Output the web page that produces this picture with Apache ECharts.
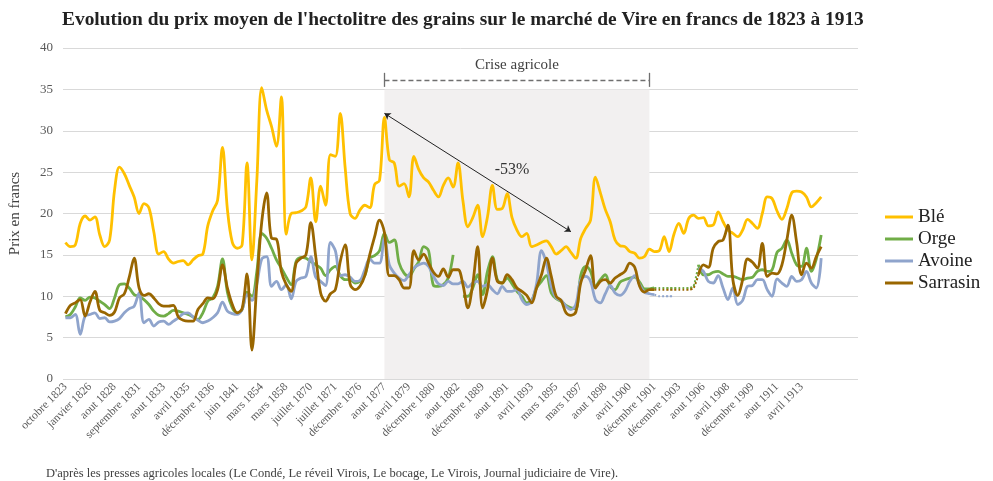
<!DOCTYPE html>
<html>
<head>
<meta charset="utf-8">
<script src="https://cdn.jsdelivr.net/npm/echarts@6/dist/echarts.min.js"></script>
<style>
  html, body { margin: 0; padding: 0; background: #fff; }
  #chart { width: 993px; height: 481px; }
</style>
</head>
<body>
<div id="chart"></div>
<script>
// libellés de l'axe (un tous les 5 relevés)
const tickLabels = ['octobre 1823', 'janvier 1826', 'aout 1828', 'septembre 1831', 'aout 1833', 'avril 1835',
  'décembre 1836', 'juin 1841', 'mars 1854', 'mars 1858', 'juillet 1870', 'juillet 1871', 'décembre 1876',
  'aout 1877', 'avril 1879', 'décembre 1880', 'aout 1882', 'décembre 1889', 'aout 1891', 'avril 1893',
  'mars 1895', 'mars 1897', 'aout 1898', 'avril 1900', 'décembre 1901', 'décembre 1903', 'aout 1906',
  'avril 1908', 'décembre 1909', 'aout 1911', 'avril 1913'];
const labelStep = 5;
const categoryCount = 162;

const ble = [
  16.5, 16.0, 16.2, 18.8, 19.7, 19.2, 19.6, 17.4, 16.0, 16.8,
  22.8, 25.6, 24.8, 23.4, 22.0, 20.0, 21.2, 20.7, 17.8, 15.1,
  15.4, 14.5, 14.0, 14.2, 14.3, 13.8, 14.4, 14.9, 15.1, 18.5,
  20.3, 21.6, 28.0, 20.5, 16.5, 15.8, 16.2, 26.1, 14.4, 24.0,
  35.2, 32.5, 30.5, 28.1, 34.1, 17.5, 20.0, 20.1, 20.3, 20.8,
  24.3, 19.0, 23.3, 21.0, 27.1, 26.9, 32.1, 25.5, 20.0, 19.4,
  20.4, 21.0, 20.7, 23.5, 24.0, 31.6, 26.5, 26.1, 23.3, 23.6,
  22.0, 26.9, 25.3, 24.3, 23.8, 22.8, 22.0, 23.4, 24.3, 23.2,
  26.1, 21.5, 18.4, 19.5, 21.0, 17.2, 19.6, 23.4, 20.5, 20.6,
  22.4, 19.5, 18.0, 17.2, 17.6, 16.0, 16.2, 16.5, 16.7, 16.0,
  15.1, 15.5, 16.0, 15.3, 14.6, 17.0, 18.2, 19.2, 24.4, 22.5,
  20.5, 19.0, 16.8, 16.1, 16.0, 15.4, 15.2, 14.6, 14.8, 15.7,
  15.4, 15.5, 17.2, 15.4, 17.5, 18.8, 17.6, 19.4, 19.8, 19.4,
  19.5, 18.5, 18.6, 20.2, 19.0, 18.0, 17.6, 17.2, 18.0, 19.3,
  18.8, 18.2, 20.0, 22.0, 21.8, 20.3, 19.3, 20.6, 22.5, 22.7,
  22.6, 22.0, 20.8, 21.3, 22.0
];
const orge = [
  7.5, 7.8, 8.7, 9.8, 9.5, 9.9, 9.8, 9.4, 9.0, 8.5,
  9.8, 11.4, 11.5, 11.0, 10.2, 10.0, 9.6, 9.0, 8.2, 7.7,
  7.6, 7.9, 8.3, 8.2, 8.0, 7.8, 7.5, 7.2, 8.0, 9.4,
  9.8, 11.2, 14.5, 10.5, 8.6, 8.0, 8.4, 10.5, 10.0, 13.0,
  17.6, 17.0, 15.8, 14.4, 13.4, 12.3, 11.4, 14.2, 14.7, 14.6,
  14.2, 13.8, 13.4, 12.5, 13.2, 13.6, 12.5, 12.0, 12.0, 11.6,
  11.8, 12.5, 14.6, 14.9, 15.5, 17.6, 16.5, 16.8, 14.0, 12.8,
  12.4, 13.3, 14.2, 16.0, 15.5, 11.3, 11.2, 11.4, 12.2, 15.0,
  null, 10.0, 10.0, 11.0, 12.6, 10.2, 13.0, 14.8, 12.0, 11.6,
  12.2, 11.5, 10.6, 10.0, 9.2, 9.5, 11.0, 11.8, 12.5, 10.4,
  9.7, 9.4, 8.9, 8.6, 8.5, 12.5, 13.6, 13.0, 11.2, 12.0,
  12.6, 11.2, 10.8, 11.7, 12.0, 12.2, 12.3, 11.7, 10.9, 10.9,
  11.0, null, null, null, null, null, null, null, null, 13.8,
  12.6, 12.6, 12.9, 13.0, 12.7, 12.4, 12.4, 12.2, 12.0, 12.2,
  12.3, 13.0, 13.2, 13.0, 13.2, 15.3, 15.8, 16.8, 15.2, 13.8,
  13.6, 15.8, 13.0, 14.5, 17.4
];
const avoine = [
  7.4, 7.4, 7.8, 5.4, 7.6, 7.8, 8.0, 7.3, 7.4, 6.9,
  7.0, 7.3, 8.0, 8.5, 8.8, 10.4, 6.8, 7.2, 6.4, 6.9,
  7.0, 6.6, 7.0, 7.4, 7.9, 8.0, 7.5, 7.1, 6.8, 7.0,
  7.4, 8.0, 9.3, 8.2, 7.9, 7.8, 8.4, 10.2, 9.5, 11.5,
  14.5, 14.8, 11.2, 11.8, 10.8, 11.4, 9.7, 11.8, 12.2, 12.4,
  14.8, 12.3, 11.8, 11.3, 16.5, 15.5, 12.5, 12.6, 12.3, 11.8,
  11.9, 13.2, 14.5, 14.0, 14.0, 17.0, 13.8, 12.8, 12.2, 11.9,
  12.6, 13.4, 13.8, 14.0, 13.6, 12.4, 11.5, 11.3, 11.8, 11.5,
  11.5, 11.8, 11.1, 11.6, 11.8, 11.2, 11.4, 10.8, 10.3, 11.2,
  10.6, 10.6, 10.8, 9.6, 9.0, 9.4, 11.5, 15.5, 14.0, 11.2,
  9.8, 9.5, 8.8, 8.4, 9.0, 12.0, 12.4, 11.8, 9.6, 9.2,
  10.3, 11.3, 10.4, 10.1, 10.6, 11.8, 12.5, 11.4, 10.5, 10.3,
  10.2, null, null, null, null, null, null, null, null, 13.4,
  13.0, 11.8, 11.6, 12.5, 11.0, 9.6, 11.0, 9.0, 9.5, 11.2,
  11.3, 12.0, 12.0, 10.8, 10.0, 12.1, 11.6, 11.2, 12.4, 11.8,
  12.0, 13.0, 11.6, 11.0, 14.6
];
const sarrasin = [
  7.9, 8.9, 9.2, 9.6, 7.6, 9.3, 10.6, 8.3, 8.0, 7.7,
  8.1, 9.8, 10.3, 12.3, 14.6, 11.0, 10.1, 10.3, 9.8, 9.1,
  8.8, 8.8, 8.9, 7.5, 7.1, 7.0, 7.0, 8.4, 9.1, 9.8,
  9.7, 10.8, 13.8, 11.0, 9.0, 8.0, 8.5, 12.7, 3.5, 11.5,
  19.0, 22.5, 17.0, 16.9, 13.0, 11.4, 10.6, 14.0, 14.6, 15.0,
  18.9, 14.8, 10.4, 9.4, 10.3, 10.8, 14.2, 16.2, 11.5, 10.8,
  11.2, 12.5, 15.0, 17.2, 19.2, 17.7, 12.5, 12.5, 12.0, 11.0,
  11.0, 15.5, 14.4, 15.1, 14.0, 12.9, 12.4, 13.3, 12.3, 13.2,
  13.2, 11.4, 8.6, 11.5, 16.0, 8.6, 10.8, 14.6, 11.8, 11.6,
  12.6, 12.0, 11.0, 10.6, 10.1, 9.2, 11.0, 12.6, 14.6, 12.4,
  10.0, 9.5, 8.0, 7.7, 8.1, 11.6, 13.2, 14.9, 11.0, 11.8,
  12.0, 11.6, 12.2, 12.6, 13.0, 14.0, 13.5, 11.2, 10.5, 10.8,
  10.8, null, null, null, null, null, null, null, null, 12.6,
  13.8, 13.5, 15.8, 16.6, 16.8, 18.6, 12.0, 10.1, 12.0, 14.5,
  14.1, 13.4, 16.4, 12.4, 12.8, 12.7, 13.8, 16.8, 19.8, 16.5,
  12.6, 14.0, 13.4, 14.8, 16.0
];
// relevés manquants 1901-1906 : tracés en pointillés
const gapStart = 120;
const orgeGap = [11.0, 11.0, 11.0, 11.0, 11.0, 11.0, 11.0, 11.0, 11.2, 13.8];
const avoineGap = [10.2, 10.0, 10.0, 10.0, 10.0];
const sarrasinGap = [10.8, 10.8, 10.8, 10.8, 10.8, 10.8, 10.8, 10.8, 11.0, 12.6];

// crise agricole : aout 1877 -> fin 1901 ; flèche -53 %
const criseStart = 65, criseEnd = 119;
const arrowFrom = [65, 32.1], arrowTo = [103, 17.8];

const categories = [];
for (let i = 0; i < categoryCount; i++) {
  categories.push(i % labelStep === 0 && tickLabels[i / labelStep] ? tickLabels[i / labelStep] : '');
}
function gapData(vals) {
  const arr = new Array(gapStart).fill(null);
  return arr.concat(vals);
}

const serif = 'Liberation Serif';
const colors = { ble: '#FFC000', orge: '#70AD47', avoine: '#8FA4CC', sarrasin: '#996600' };

const chart = echarts.init(document.getElementById('chart'));

function lineSeries(name, data, color) {
  return {
    name: name, type: 'line', data: data, smooth: 0.35, showSymbol: false, symbol: 'none',
    connectNulls: false, lineStyle: { color: color, width: 2.8 }, itemStyle: { color: color }, z: 3
  };
}
function dotSeries(name, vals, color) {
  return {
    name: name, type: 'line', data: gapData(vals), smooth: 0.2, showSymbol: false, symbol: 'none',
    lineStyle: { color: color, width: 2, type: 'dotted' }, itemStyle: { color: color }, z: 2
  };
}

const bleSeries = lineSeries('Blé', ble, colors.ble);
bleSeries.markArea = {
  silent: true,
  itemStyle: { color: '#F2F0F0' },
  data: [[{ xAxis: criseStart, yAxis: 0 }, { xAxis: criseEnd, yAxis: 35 }]]
};
bleSeries.markLine = {
  silent: true,
  symbol: 'none',
  animation: false,
  data: [
    [{ coord: [criseStart, 36.1], lineStyle: { type: [5, 3], color: '#6f6f6f', width: 1.3 },
       label: { show: true, position: 'middle', formatter: 'Crise agricole', distance: 8,
                fontFamily: serif, fontSize: 15, color: '#404040' } },
     { coord: [criseEnd, 36.1] }],
    [{ coord: [criseStart, 35.3], lineStyle: { type: 'solid', color: '#6f6f6f', width: 1.3 }, label: { show: false } },
     { coord: [criseStart, 37.0] }],
    [{ coord: [criseEnd, 35.3], lineStyle: { type: 'solid', color: '#6f6f6f', width: 1.3 }, label: { show: false } },
     { coord: [criseEnd, 37.0] }],
    [{ coord: arrowFrom, symbol: 'arrow', symbolSize: 6, lineStyle: { type: 'solid', color: '#222', width: 1 }, label: { show: false } },
     { coord: arrowTo, symbol: 'arrow', symbolSize: 6 }]
  ]
};
bleSeries.markPoint = {
  silent: true,
  symbol: 'rect', symbolSize: 1,
  itemStyle: { color: 'rgba(0,0,0,0)' },
  label: { show: true, position: 'inside', fontFamily: serif, fontSize: 16, color: '#333' },
  data: [{ coord: [91, 25.3], value: '-53%' }]
};

const option = {
  animation: false,
  backgroundColor: '#fff',
  title: [
    {
      text: "Evolution du prix moyen de l'hectolitre des grains sur le marché de Vire en francs de 1823 à 1913",
      left: 57, top: 5,
      textStyle: { fontFamily: serif, fontWeight: 'bold', fontSize: 19.4, color: '#222' }
    },
    {
      text: "D'après les presses agricoles locales (Le Condé, Le réveil Virois, Le bocage, Le Virois, Journal judiciaire de Vire).",
      left: 41, top: 462,
      textStyle: { fontFamily: serif, fontWeight: 'normal', fontSize: 12.5, color: '#404040' }
    }
  ],
  legend: {
    orient: 'vertical', left: 880, top: 202,
    data: ['Blé', 'Orge', 'Avoine', 'Sarrasin'],
    icon: 'rect', itemWidth: 28, itemHeight: 3, itemGap: 2,
    textStyle: { fontFamily: serif, fontSize: 19, color: '#222', lineHeight: 20 }
  },
  grid: { left: 62, right: 135, top: 48, bottom: 102, containLabel: false },
  xAxis: {
    type: 'category', data: categories, boundaryGap: true,
    axisLine: { show: false }, axisTick: { show: false },
    axisLabel: { interval: 0, rotate: 45, fontFamily: serif, fontSize: 11.5, color: '#595959', margin: 6 }
  },
  yAxis: {
    type: 'value', min: 0, max: 40, interval: 5,
    name: 'Prix en francs', nameLocation: 'middle', nameGap: 40, nameRotate: 90,
    nameTextStyle: { fontFamily: serif, fontSize: 15, color: '#404040' },
    axisLine: { show: false }, axisTick: { show: false },
    axisLabel: { fontFamily: serif, fontSize: 13, color: '#595959', margin: 10 },
    splitLine: { lineStyle: { color: '#D9D9D9', width: 1 } }
  },
  series: [
    bleSeries,
    lineSeries('Orge', orge, colors.orge),
    lineSeries('Avoine', avoine, colors.avoine),
    lineSeries('Sarrasin', sarrasin, colors.sarrasin),
    dotSeries('Orge', orgeGap, colors.orge),
    dotSeries('Avoine', avoineGap, colors.avoine),
    dotSeries('Sarrasin', sarrasinGap, colors.sarrasin)
  ]
};

chart.setOption(option);
</script>
</body>
</html>
